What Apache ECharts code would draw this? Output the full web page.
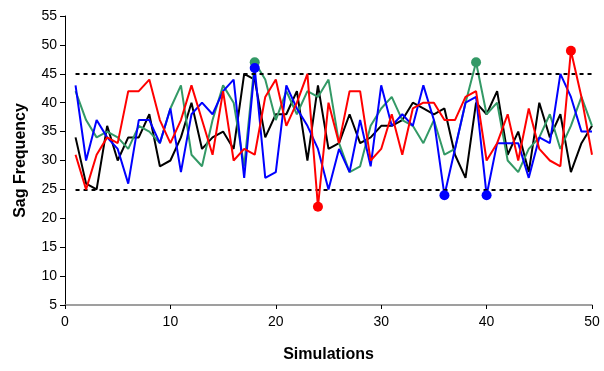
<!DOCTYPE html>
<html>
<head>
<meta charset="utf-8">
<script src="https://cdn.jsdelivr.net/npm/echarts@6/dist/echarts.min.js"></script>
<style>
  html, body { margin: 0; padding: 0; background: #fff; }
  #chart { width: 604px; height: 371px; }
</style>
</head>
<body>
<div id="chart"></div>
<script>
// simulation number on the x axis
const simulations = [1, 2, 3, 4, 5, 6, 7, 8, 9, 10, 11, 12, 13, 14, 15, 16, 17, 18, 19, 20,
  21, 22, 23, 24, 25, 26, 27, 28, 29, 30, 31, 32, 33, 34, 35, 36, 37, 38, 39, 40,
  41, 42, 43, 44, 45, 46, 47, 48, 49, 50];

const blackRun = [34, 26, 25, 36, 30, 34, 34, 38, 29, 30, 34, 40, 32, 34, 35, 32, 45, 44, 34, 38,
  38, 42, 30, 43, 32, 33, 38, 33, 34, 36, 36, 37, 40, 39, 38, 39, 31, 27, 40, 38,
  42, 31, 35, 28, 40, 34, 38, 28, 33, 36];
const greenRun = [42, 37, 34, 35, 34, 32, 36, 35, 33, 39, 43, 31, 29, 37, 43, 40, 29, 47, 44, 37,
  42, 38, 42, 41, 44, 33, 28, 29, 36, 39, 41, 37, 36, 33, 37, 31, 32, 40, 47, 38,
  40, 30, 28, 32, 34, 38, 32, 36, 41, 36];
const blueRun = [43, 30, 37, 34, 32, 26, 37, 37, 33, 39, 28, 38, 40, 38, 42, 44, 27, 46, 27, 28,
  43, 39, 36, 32, 25, 32, 28, 37, 29, 43, 36, 38, 36, 43, 37, 24, 32, 40, 41, 24,
  33, 33, 33, 27, 34, 33, 45, 41, 35, 35];
const redRun = [31, 25, 31, 34, 33, 42, 42, 44, 37, 33, 37, 43, 37, 31, 42, 30, 32, 31, 41, 44,
  36, 40, 45, 22, 40, 33, 42, 42, 30, 32, 38, 31, 39, 40, 40, 37, 37, 41, 42, 30,
  33, 38, 30, 39, 32, 30, 29, 49, 41, 31];

// control limits (dashed lines)
const upperLimit = 45;
const lowerLimit = 25;

const yTicks = { min: 5, max: 55, step: 5 };
const xTicks = { min: 0, max: 50, step: 10 };

const runs = [
  { name: "Run 1", data: blackRun, color: "#000000" },
  { name: "Run 2", data: greenRun, color: "#339966" },
  { name: "Run 3", data: blueRun, color: "#0000ff" },
  { name: "Run 4", data: redRun, color: "#ff0000" },
];

const font = "Liberation Sans, Arial, sans-serif";

const chart = echarts.init(document.getElementById("chart"));

const series = [];
runs.forEach((r, idx) => {
  const pts = simulations.map((s, i) => [s, r.data[i]]);
  const line = {
    name: r.name,
    type: "line",
    data: pts,
    showSymbol: false,
    symbol: "none",
    lineStyle: { color: r.color, width: 2 },
    itemStyle: { color: r.color },
    z: 2 + idx,
    animation: false,
  };
  if (idx === 0) {
    line.markLine = {
      silent: true,
      symbol: "none",
      label: { show: false },
      lineStyle: { color: "#000", width: 2, type: [4, 4] },
      data: [
        [{ coord: [simulations[0], upperLimit] }, { coord: [simulations[simulations.length - 1], upperLimit] }],
        [{ coord: [simulations[0], lowerLimit] }, { coord: [simulations[simulations.length - 1], lowerLimit] }],
      ],
    };
  }
  series.push(line);
  // points outside the limits get a dot
  series.push({
    type: "scatter",
    data: pts.filter((p) => p[1] > upperLimit || p[1] < lowerLimit),
    symbolSize: 10,
    itemStyle: { color: r.color, opacity: 1 },
    z: 10 + idx,
    animation: false,
  });
});

const option = {
  backgroundColor: "#fff",
  animation: false,
  textStyle: { fontFamily: font },
  grid: { left: 65, right: 12, top: 16, bottom: 66 },
  xAxis: {
    type: "value",
    min: xTicks.min,
    max: xTicks.max,
    interval: xTicks.step,
    name: "Simulations",
    nameLocation: "middle",
    nameGap: 42,
    nameTextStyle: { fontFamily: font, fontSize: 16, fontWeight: "bold", color: "#000" },
    axisLine: { lineStyle: { color: "#808080", width: 1.5 } },
    axisTick: { show: true, length: 4, lineStyle: { color: "#000" } },
    axisLabel: { fontFamily: font, fontSize: 14, color: "#000", margin: 10 },
    splitLine: { show: false },
  },
  yAxis: {
    type: "value",
    min: yTicks.min,
    max: yTicks.max,
    interval: yTicks.step,
    name: "Sag Frequency",
    nameLocation: "middle",
    nameGap: 36,
    nameTextStyle: { fontFamily: font, fontSize: 16, fontWeight: "bold", color: "#000" },
    axisLine: { show: true, lineStyle: { color: "#000", width: 1 } },
    axisTick: { show: true, length: 5, lineStyle: { color: "#000" } },
    axisLabel: { fontFamily: font, fontSize: 14, color: "#000", margin: 8 },
    splitLine: { show: false },
  },
  series: series,
};

chart.setOption(option);
</script>
</body>
</html>
